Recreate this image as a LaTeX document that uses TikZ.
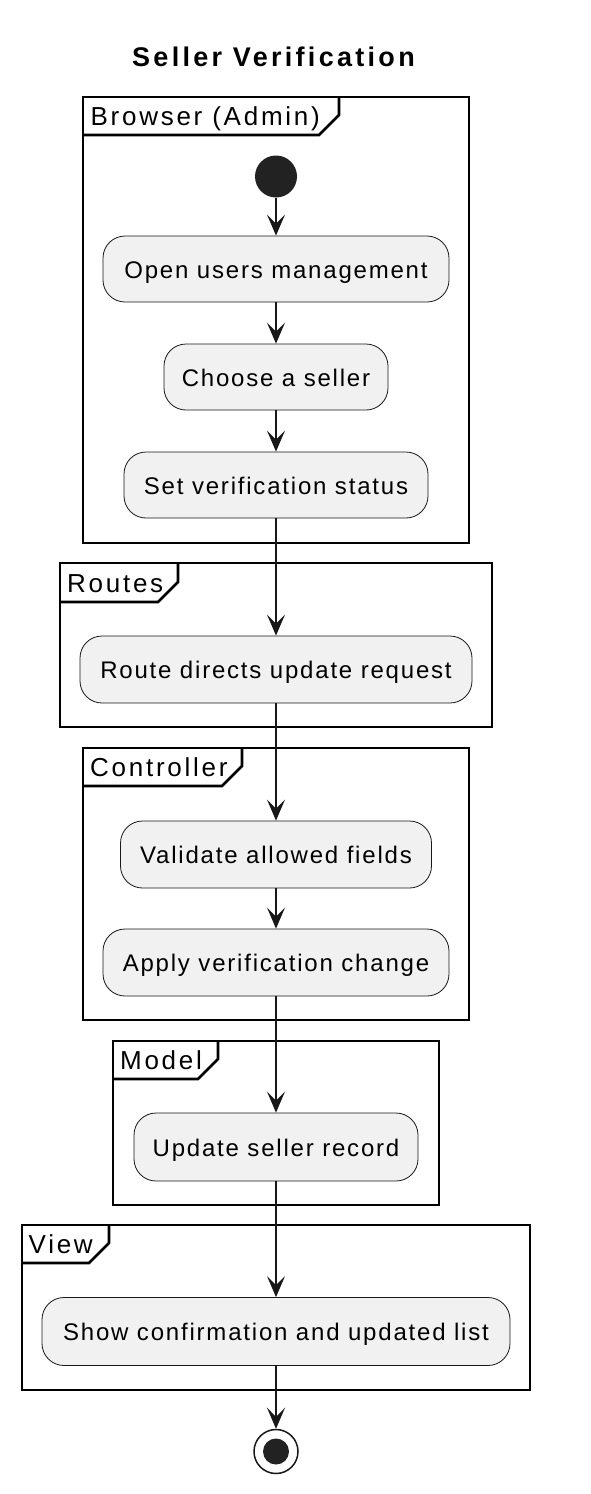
\documentclass[tikz,border=0pt]{standalone}
\usepackage{fontspec}
\setmainfont{Liberation Sans}
\newfontfamily\boxfont{Liberation Sans}[LetterSpace=7.5]
\newfontfamily\framefont{Liberation Sans}[LetterSpace=10.5]
\newfontfamily\titlefont{Liberation Sans}[LetterSpace=12.2]
\usetikzlibrary{arrows.meta,positioning}
\definecolor{linecol}{HTML}{181818}
\definecolor{boxfill}{HTML}{F1F1F1}
\definecolor{dotcol}{HTML}{222222}
\begin{document}
\begin{tikzpicture}[x=1pt, y=-1pt,
    actbox/.style={draw=linecol, line width=0.8pt, fill=boxfill, rounded corners=22pt, inner sep=0pt, text height=18pt, text depth=0pt, font=\boxfont\fontsize{24}{28}\selectfont},
    frameline/.style={draw=black, line width=2.6pt},
    framelabel/.style={anchor=base west, inner sep=0pt, font=\framefont\fontsize{26}{30}\selectfont},
    flow/.style={-{Stealth[length=21pt, width=18pt, inset=9pt]}, draw=linecol, line width=1.5pt},
  ]
    \useasboundingbox (0,0) rectangle (591,1494);

    \node[anchor=base, inner sep=0pt, font=\titlefont\bfseries\fontsize{27}{32}\selectfont] (title) at (273.5,66) {Seller Verification};

    % frames
    \draw[frameline] (83,97) rectangle (469,543);
    \draw[frameline] (83,135) -- (319,135) -- (339,115) -- (339,97);
    \node[framelabel] (browserlbl) at (90.5,125) {Browser (Admin)};

    \draw[frameline] (60,563) rectangle (492,727);
    \draw[frameline] (60,602) -- (158,602) -- (178,582) -- (178,563);
    \node[framelabel] (routeslbl) at (67,592) {Routes};

    \draw[frameline] (83,748) rectangle (469,1020);
    \draw[frameline] (83,786) -- (222,786) -- (242,766) -- (242,748);
    \node[framelabel] (controllerlbl) at (90,776) {Controller};

    \draw[frameline] (113,1041) rectangle (439,1205);
    \draw[frameline] (113,1079) -- (198,1079) -- (218,1059) -- (218,1041);
    \node[framelabel] (modellbl) at (120,1069) {Model};

    \draw[frameline] (22,1225) rectangle (530,1390);
    \draw[frameline] (22,1263) -- (89,1263) -- (109,1243) -- (109,1225);
    \node[framelabel] (viewlbl) at (28.5,1253) {View};

    % activities
    \node[circle, fill=dotcol, minimum size=42pt, inner sep=0pt] (start) at (276,176.5) {};
    \node[actbox, minimum width=346pt, minimum height=66pt] (open) at (276,269) {Open users management};
    \node[actbox, minimum width=224pt, minimum height=66pt] (choose) at (276,377) {Choose a seller};
    \node[actbox, minimum width=304pt, minimum height=66pt] (setstatus) at (276,485) {Set verification status};
    \node[actbox, minimum width=392pt, minimum height=67pt] (route) at (276,669.5) {Route directs update request};
    \node[actbox, minimum width=311pt, minimum height=67pt] (validate) at (276,854.5) {Validate allowed fields};
    \node[actbox, minimum width=346pt, minimum height=67pt] (apply) at (276,962.5) {Apply verification change};
    \node[actbox, minimum width=284pt, minimum height=68pt] (update) at (276,1147) {Update seller record};
    \node[actbox, minimum width=468pt, minimum height=68pt] (show) at (276,1331.5) {Show confirmation and updated list};
    \node[circle, draw=linecol, line width=1.5pt, fill=white, minimum size=44pt, inner sep=0pt,
      path picture={\fill[dotcol] (path picture bounding box.center) circle (13pt);}] (stop) at (276,1451.5) {};

    \draw[flow] (start) -- (open);
    \draw[flow] (open) -- (choose);
    \draw[flow] (choose) -- (setstatus);
    \draw[flow] (setstatus) -- (route);
    \draw[flow] (route) -- (validate);
    \draw[flow] (validate) -- (apply);
    \draw[flow] (apply) -- (update);
    \draw[flow] (update) -- (show);
    \draw[flow] (show) -- (stop);
\end{tikzpicture}
\end{document}
